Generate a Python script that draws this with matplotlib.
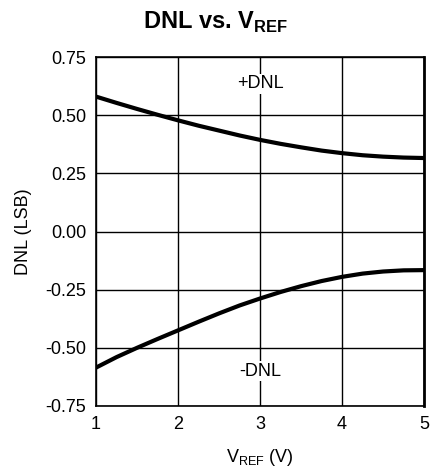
import matplotlib
matplotlib.use("Agg")
import matplotlib.pyplot as plt

plt.rcParams['font.family'] = ['Liberation Sans', 'DejaVu Sans']
plt.rcParams['mathtext.fontset'] = 'custom'
plt.rcParams['mathtext.rm'] = 'Liberation Sans'
plt.rcParams['mathtext.bf'] = 'Liberation Sans:weight=bold'

# data
vref = [1.0, 1.25, 1.5, 1.75, 2.0, 2.25, 2.5, 2.75, 3.0,
        3.25, 3.5, 3.75, 4.0, 4.25, 4.5, 4.75, 5.0]
dnl_pos = [0.58, 0.553, 0.527, 0.502, 0.478, 0.455, 0.434, 0.413, 0.394,
           0.377, 0.362, 0.348, 0.337, 0.328, 0.322, 0.318, 0.316]
dnl_neg = [-0.585, -0.54, -0.50, -0.462, -0.425, -0.388, -0.352, -0.318, -0.288,
           -0.26, -0.235, -0.213, -0.195, -0.181, -0.172, -0.167, -0.166]

x_ticks = [1, 2, 3, 4, 5]
y_ticks = [-0.75, -0.50, -0.25, 0.00, 0.25, 0.50, 0.75]

fig = plt.figure(figsize=(4.31, 4.72), dpi=100)
ax = fig.add_axes([0.223, 0.140, 0.761, 0.739])

ax.plot(vref, dnl_pos, color='black', lw=3, zorder=3)
ax.plot(vref, dnl_neg, color='black', lw=3, zorder=3)

ax.set_xlim(1, 5)
ax.set_ylim(-0.75, 0.75)
ax.set_xticks(x_ticks)
ax.set_yticks(y_ticks)
ax.set_yticklabels([f"{v:.2f}" for v in y_ticks])
ax.tick_params(length=0, labelsize=13, pad=7)
ax.grid(True, color='black', lw=1)

for s in ax.spines.values():
    s.set_linewidth(1.2)
ax.spines['right'].set_linewidth(2)

bbox = dict(facecolor='white', edgecolor='none', pad=1)
ax.text(3.0, 0.635, '+DNL', ha='center', va='center', fontsize=13, bbox=bbox, zorder=4)
ax.text(3.0, -0.60, '-DNL', ha='center', va='center', fontsize=13, bbox=bbox, zorder=4)

ax.set_xlabel(r'V$_{\mathrm{REF}}$ (V)', fontsize=13, labelpad=10)
ax.set_ylabel('DNL (LSB)', fontsize=13, labelpad=10)

# title is centred on the figure, not on the axes
fig.text(0.5, 1 - 29 / 472, r'DNL vs. V$_{\mathbf{REF}}$', fontsize=17,
         fontweight='bold', ha='center', va='baseline')

fig.savefig('out.png', dpi=100)
